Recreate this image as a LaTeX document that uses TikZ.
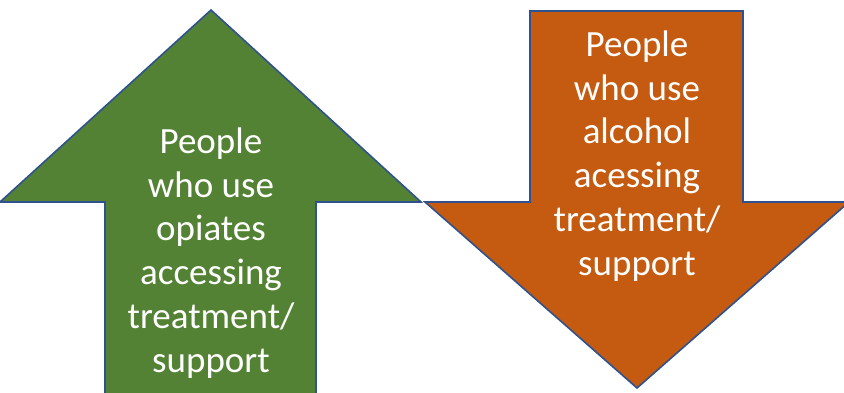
\documentclass[tikz,border=0pt]{standalone}
\usepackage{fontspec}
\setmainfont{Carlito}
\usetikzlibrary{positioning}
\definecolor{upgreen}{HTML}{548235}
\definecolor{downorange}{HTML}{C55A11}
\definecolor{edgeblue}{HTML}{2F528F}
\tikzset{
  arrowshape/.style={draw=edgeblue,line width=1.6pt,line join=miter},
  label/.style={text=white,align=center,inner sep=0pt,font=\fontsize{37}{43.8}\selectfont}
}

\begin{document}
\begin{tikzpicture}[x=1pt,y=-1pt]
\useasboundingbox (0,0) rectangle (844,392);
\clip (0,0) rectangle (844,392);
% up arrow
\draw[arrowshape, fill=upgreen] (211,10) -- (421,202) -- (316,202) -- (316,400)
  -- (105,400) -- (105,202) -- (0,202) -- cycle;
% down arrow
\draw[arrowshape, fill=downorange] (530,11) -- (743,11) -- (743,202) -- (849,202)
  -- (637,388) -- (425,202) -- (530,202) -- cycle;
\node[label] (opiates) at (211,253) {People\\who use\\opiates\\accessing\\treatment/\\support};
\node[label] (alcohol) at (637,156) {People\\who use\\alcohol\\acessing\\treatment/\\support};
\end{tikzpicture}
\end{document}
